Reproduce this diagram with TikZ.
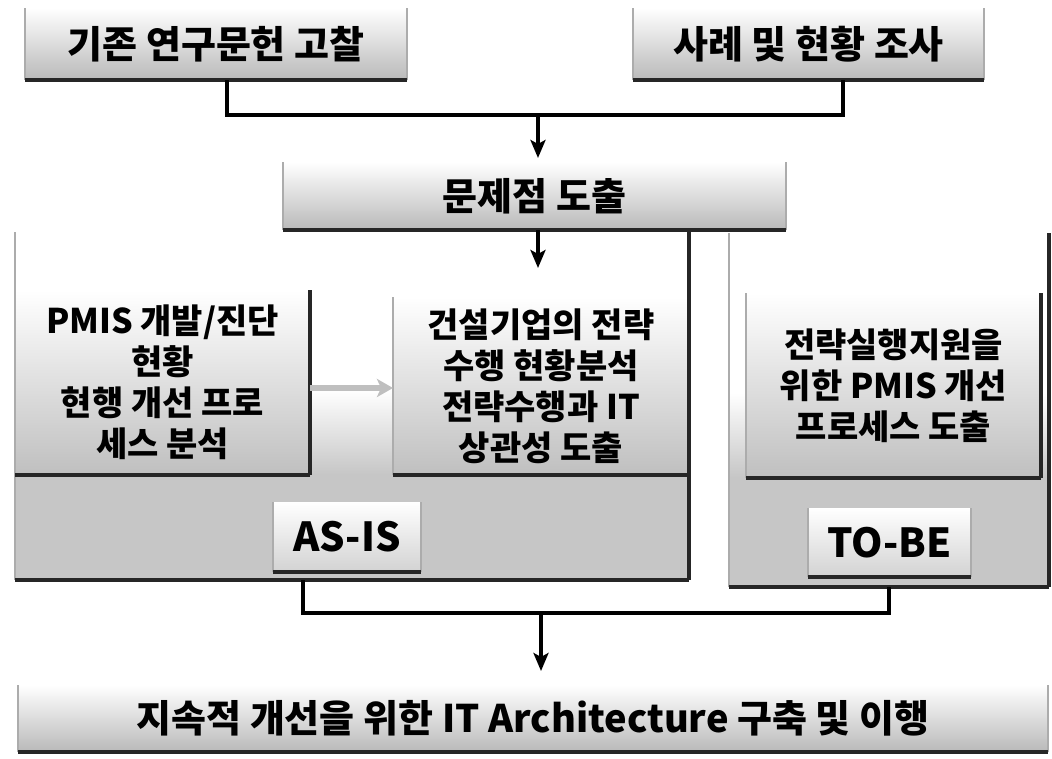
\documentclass[tikz,border=0pt]{standalone}
\usepackage{fontspec}
\setmainfont{Noto Sans CJK KR}[BoldFont={Noto Sans CJK KR Black}]
\usetikzlibrary{arrows.meta,calc}

\tikzset{
  edgeside/.style={draw=gray!65, line width=1.2pt},
  edgedark/.style={draw=black!85, line width=3.5pt},
  plainbox/.style={inner sep=0pt, outer sep=0pt, anchor=north west,
    top color=white, middle color=white, bottom color=gray!55,
    font=\bfseries\fontsize{38}{44}\selectfont},
  innerbox/.style={inner sep=0pt, outer sep=0pt, anchor=north west, align=center,
    top color=white, middle color=white, bottom color=gray!50,
    font=\bfseries\fontsize{34}{41}\selectfont},
  tagbox/.style={inner sep=0pt, outer sep=0pt, anchor=north west,
    top color=white, bottom color=gray!35,
    font=\bfseries\fontsize{40}{44}\selectfont},
  contbox/.style={inner sep=0pt, outer sep=0pt, anchor=north west,
    path picture={
      \fill[gray!45] (path picture bounding box.south west) rectangle ([yshift=#1]path picture bounding box.south east);
      \shade[top color=white, bottom color=gray!45] ([yshift=#1]path picture bounding box.south west) rectangle ([yshift=#1+85pt]path picture bounding box.south east);
    }},
  conn/.style={draw=black, line width=4pt},
  arrowc/.style={draw=black, line width=4pt, -{Stealth[length=18pt,width=15pt,inset=4pt]}},
  grayarrow/.style={draw=gray!50, line width=6pt, -{Stealth[length=16pt,width=18pt,inset=4pt]}},
}
\newcommand\boxedges[1]{%
  \draw[edgeside] (#1.north west) -- (#1.south west) (#1.north east) -- (#1.south east);
  \draw[edgedark] (#1.south west) -- (#1.south east);}
\newcommand\boxedgesR[1]{%
  \draw[edgeside] (#1.north west) -- (#1.south west);
  \draw[edgedark] (#1.north east) -- (#1.south east);
  \draw[edgedark] (#1.south west) -- (#1.south east);}

\begin{document}
\begin{tikzpicture}[x=1pt,y=-1pt]
\useasboundingbox[fill=white] (0,0) rectangle (1052,758);

% top boxes
\node[plainbox, minimum width=382pt, minimum height=72pt] (A) at (25,8) {기존 연구문헌 고찰};
\node[plainbox, minimum width=351pt, minimum height=72pt] (B) at (633,8) {사례 및 현황 조사};
\node[plainbox, minimum width=503pt, minimum height=68pt] (C) at (283,162) {문제점 도출};
\boxedges{A}
\boxedges{B}
\boxedges{C}

% containers
\node[contbox=105pt, minimum width=674pt, minimum height=348pt] (AS) at (15,232) {};
\node[contbox=109pt, minimum width=320pt, minimum height=354pt] (TO) at (729,233) {};

% inner boxes
\node[innerbox, minimum width=295pt, minimum height=185pt] (PM) at (15,290) {PMIS 개발/진단\\현황\\현행 개선 프로\\세스 분석};
\node[innerbox, minimum width=296pt, minimum height=178pt] (KEY) at (393,297) {건설기업의 전략\\수행 현황분석\\전략수행과 IT\\상관성 도출};
\node[innerbox, minimum width=295pt, minimum height=185pt] (TOI) at (746,293) {전략실행지원을\\위한 PMIS 개선\\프로세스 도출};

% tags
\node[tagbox, minimum width=148pt, minimum height=70pt] (ASL) at (273,502) {AS-IS};
\node[tagbox, minimum width=163pt, minimum height=69pt] (TOL) at (808,508) {TO-BE};

\boxedgesR{AS}
\boxedgesR{TO}
\boxedgesR{PM}
\boxedgesR{KEY}
\boxedgesR{TOI}
\boxedges{ASL}
\boxedges{TOL}

% bottom box
\node[plainbox, minimum width=1030pt, minimum height=67pt] (F) at (18,685) {지속적 개선을 위한 IT Architecture 구축 및 이행};
\boxedges{F}

% connectors
\coordinate (h1) at (0,115);
\coordinate (h2) at (0,268);
\coordinate (h3) at (0,388);
\coordinate (j1) at (538,115);
\coordinate (j2) at (541,613);
\draw[conn] ([xshift=11pt]A.south) |- (j1) -| ([xshift=34.5pt]B.south);
\draw[arrowc, shorten >=4pt] (j1) -- (j1 |- C.north);
\draw[arrowc] (j1 |- C.south) -- (j1 |- h2);
\draw[grayarrow] (PM.east |- h3) -- (KEY.west |- h3);
\draw[conn] ([xshift=-49pt]AS.south) |- (j2) -| (TO.south);
\draw[arrowc, shorten >=14pt] (j2) -- (j2 |- F.north);
\end{tikzpicture}
\end{document}
